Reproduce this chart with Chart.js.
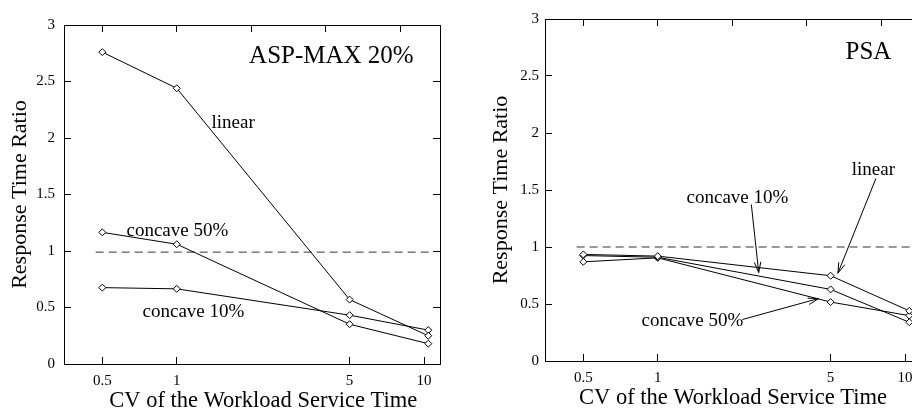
<!DOCTYPE html>
<html>
<head>
<meta charset="utf-8">
<script src="https://cdn.jsdelivr.net/npm/chart.js@4/dist/chart.umd.min.js"></script>
<style>
  html, body { margin: 0; padding: 0; background: #fff; width: 912px; height: 412px; overflow: hidden; }
  #grafik1 { position: absolute; left: 0; top: 0; }
  #grafik2 { position: absolute; left: 481px; top: -3px; }
</style>
</head>
<body>
<canvas id="grafik1" width="456" height="412"></canvas>
<canvas id="grafik2" width="456" height="412"></canvas>
<script>
// x values (CV) and tick labels
const cvValues = [0.5, 1, 5, 10.4];
const xTickValues = [0.5, 1, 5, 10];
const topTickValues = [0.5, 1, 2, 4, 8];
const yTickValues = [0, 0.5, 1, 1.5, 2, 2.5, 3];

// ASP-MAX 20%
const aspLinear = [2.76, 2.44, 0.57, 0.25];
const aspConcave50 = [1.165, 1.06, 0.352, 0.18];
const aspConcave10 = [0.676, 0.665, 0.432, 0.30];
const aspReference = 0.99;

// PSA
const psaLinear = [0.935, 0.92, 0.748, 0.44];
const psaConcave10 = [0.925, 0.91, 0.628, 0.34];
const psaConcave50 = [0.87, 0.905, 0.517, 0.398];
const psaReference = 1.0;

const referenceSpan = [0.47, 10.7];

Chart.defaults.font.family = "'Liberation Serif', 'Times New Roman', serif";
Chart.defaults.color = '#000';

// text labels and arrows, drawn in data coordinates
const notesPlugin = {
  id: 'notes',
  afterDatasetsDraw(chart, args, opts) {
    const ctx = chart.ctx;
    const xs = chart.scales.x;
    const ys = chart.scales.y;
    ctx.save();
    ctx.fillStyle = '#000';
    ctx.strokeStyle = '#000';
    ctx.lineWidth = 1;
    ctx.textAlign = 'center';
    ctx.textBaseline = 'middle';
    (opts.labels || []).forEach(l => {
      ctx.font = l.size + "px 'Liberation Serif', serif";
      ctx.fillText(l.text, xs.getPixelForValue(l.x), ys.getPixelForValue(l.y));
    });
    (opts.arrows || []).forEach(a => {
      const x1 = xs.getPixelForValue(a.from[0]), y1 = ys.getPixelForValue(a.from[1]);
      const x2 = xs.getPixelForValue(a.to[0]), y2 = ys.getPixelForValue(a.to[1]);
      const ang = Math.atan2(y2 - y1, x2 - x1);
      const len = 11, spread = 0.3;
      ctx.beginPath();
      ctx.moveTo(x1, y1);
      ctx.lineTo(x2, y2);
      ctx.moveTo(x2 - len * Math.cos(ang - spread), y2 - len * Math.sin(ang - spread));
      ctx.lineTo(x2, y2);
      ctx.lineTo(x2 - len * Math.cos(ang + spread), y2 - len * Math.sin(ang + spread));
      ctx.stroke();
    });
    ctx.restore();
  }
};

function seriesPoints(values) {
  return cvValues.map((cv, i) => ({ x: cv, y: values[i] }));
}

function lineDataset(values) {
  return {
    data: seriesPoints(values),
    borderColor: '#000',
    borderWidth: 1,
    pointStyle: 'rectRot',
    pointRadius: 3.5,
    pointBackgroundColor: '#fff',
    pointBorderColor: '#000',
    pointBorderWidth: 1,
    tension: 0,
    fill: false
  };
}

function referenceDataset(level) {
  return {
    data: referenceSpan.map(v => ({ x: v, y: level })),
    borderColor: '#333',
    borderWidth: 1,
    borderDash: [8, 5],
    pointRadius: 0,
    fill: false
  };
}

function tickGrid() {
  return { drawOnChartArea: false, drawTicks: true, tickLength: -7, color: '#000', lineWidth: 1 };
}

function makeChart(id, datasets, notes, yPad, xTitle) {
  const ctx = document.getElementById(id).getContext('2d');
  return new Chart(ctx, {
    type: 'line',
    data: { datasets: datasets },
    plugins: [notesPlugin],
    options: {
      responsive: false,
      animation: false,
      layout: { padding: 0 },
      plugins: {
        legend: { display: false },
        tooltip: { enabled: false },
        notes: notes
      },
      scales: {
        x: {
          type: 'logarithmic',
          position: 'bottom',
          min: 0.35,
          max: 11.6,
          afterBuildTicks: s => { s.ticks = xTickValues.map(v => ({ value: v })); },
          afterFit: s => { s.height = 48; },
          ticks: {
            font: { size: 15 },
            padding: 15,
            maxRotation: 0,
            autoSkip: false,
            callback: v => String(v)
          },
          grid: tickGrid(),
          border: { display: true, color: '#000', width: 1 },
          title: {
            display: true,
            text: xTitle,
            font: { size: 22.5, lineHeight: 1 },
            padding: { top: 0, bottom: 0 }
          }
        },
        x2: {
          type: 'logarithmic',
          position: 'top',
          min: 0.35,
          max: 11.6,
          afterBuildTicks: s => { s.ticks = topTickValues.map(v => ({ value: v })); },
          afterFit: s => { s.height = 12; },
          ticks: { display: false },
          grid: tickGrid(),
          border: { display: true, color: '#000', width: 1 }
        },
        y: {
          type: 'linear',
          position: 'left',
          min: 0,
          max: 3,
          afterBuildTicks: s => { s.ticks = yTickValues.map(v => ({ value: v })); },
          afterFit: s => { s.width = 64; },
          ticks: {
            font: { size: 15 },
            padding: yPad,
            callback: v => String(v)
          },
          grid: tickGrid(),
          border: { display: true, color: '#000', width: 1 },
          title: {
            display: true,
            text: 'Response Time Ratio',
            font: { size: 22, lineHeight: 1 },
            padding: { top: 9, bottom: 0 }
          }
        },
        y2: {
          type: 'linear',
          position: 'right',
          min: 0,
          max: 3,
          afterBuildTicks: s => { s.ticks = yTickValues.map(v => ({ value: v })); },
          afterFit: s => { s.width = 16; },
          ticks: { display: false },
          grid: tickGrid(),
          border: { display: true, color: '#000', width: 1 }
        }
      }
    }
  });
}

const grafik1 = makeChart('grafik1', [
  lineDataset(aspLinear),
  lineDataset(aspConcave50),
  lineDataset(aspConcave10),
  referenceDataset(aspReference)
], {
  labels: [
    { text: 'ASP-MAX 20%', x: 4.22, y: 2.72, size: 25 },
    { text: 'linear', x: 1.69, y: 2.13, size: 19 },
    { text: 'concave 50%', x: 1.006, y: 1.176, size: 19 },
    { text: 'concave 10%', x: 1.168, y: 0.46, size: 19 }
  ],
  arrows: []
}, 16, '    CV of the Workload Service Time');

const grafik2 = makeChart('grafik2', [
  lineDataset(psaLinear),
  lineDataset(psaConcave10),
  lineDataset(psaConcave50),
  referenceDataset(psaReference)
], {
  labels: [
    { text: 'PSA', x: 7.11, y: 2.708, size: 25 },
    { text: 'linear', x: 7.45, y: 1.671, size: 19 },
    { text: 'concave 10%', x: 2.10, y: 1.43, size: 19 },
    { text: 'concave 50%', x: 1.38, y: 0.355, size: 19 }
  ],
  arrows: [
    { from: [2.39, 1.373], to: [2.56, 0.776] },
    { from: [7.62, 1.60], to: [5.35, 0.77] },
    { from: [2.20, 0.364], to: [4.47, 0.548] }
  ]
}, 13, 'CV of the Workload Service Time');
</script>
</body>
</html>
